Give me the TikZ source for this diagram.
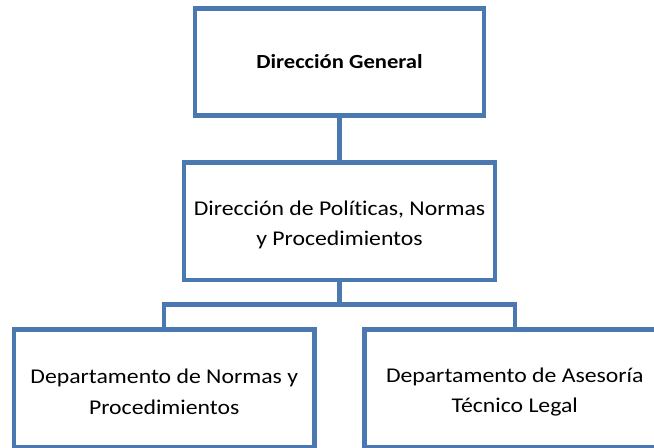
\documentclass[tikz,border=0pt]{standalone}
\usepackage{fontspec}
\setmainfont{Carlito}[FakeStretch=1.13,Ligatures=NoCommon]
\usepackage{xcolor}
\usepackage{tikz}
\definecolor{OrgBlue}{HTML}{4A78B0}

\tikzset{
  orgbox/.style={draw=OrgBlue,line width=2.2pt,fill=white,align=center,inner sep=2pt},
  lowtext/.style={text height=26pt},
  orglink/.style={draw=OrgBlue,line width=2.2pt}
}

\begin{document}
\begin{tikzpicture}[x=0.5pt,y=-0.5pt,font=\fontsize{10.5pt}{15.15pt}\selectfont]
\useasboundingbox (0,0) rectangle (654,447);
\clip (0,0) rectangle (654,447);
\node[orgbox,minimum width=144.5pt,minimum height=53.5pt,font=\bfseries] (dg) at (339.5,62) {Dirección General};
\node[orgbox,lowtext,minimum width=155.25pt,minimum height=58.75pt] (dpn) at (339.5,221.25) {Dirección de Políticas, Normas\\y Procedimientos};
\node[orgbox,lowtext,minimum width=150.25pt,minimum height=58.75pt] (dnp) at (164.25,388.25) {Departamento de Normas y\\Procedimientos};
\node[orgbox,lowtext,minimum width=150.25pt,minimum height=58.75pt] (dat) at (514.75,388.25) {Departamento de Asesoría\\Técnico Legal};
\coordinate (bus) at (339.5,304.5);
\draw[orglink] (dg.south) -- (dpn.north);
\draw[orglink] (dpn.south) -- (bus);
\draw[orglink] (dnp.north) |- (bus) -| (dat.north);
\end{tikzpicture}
\end{document}
